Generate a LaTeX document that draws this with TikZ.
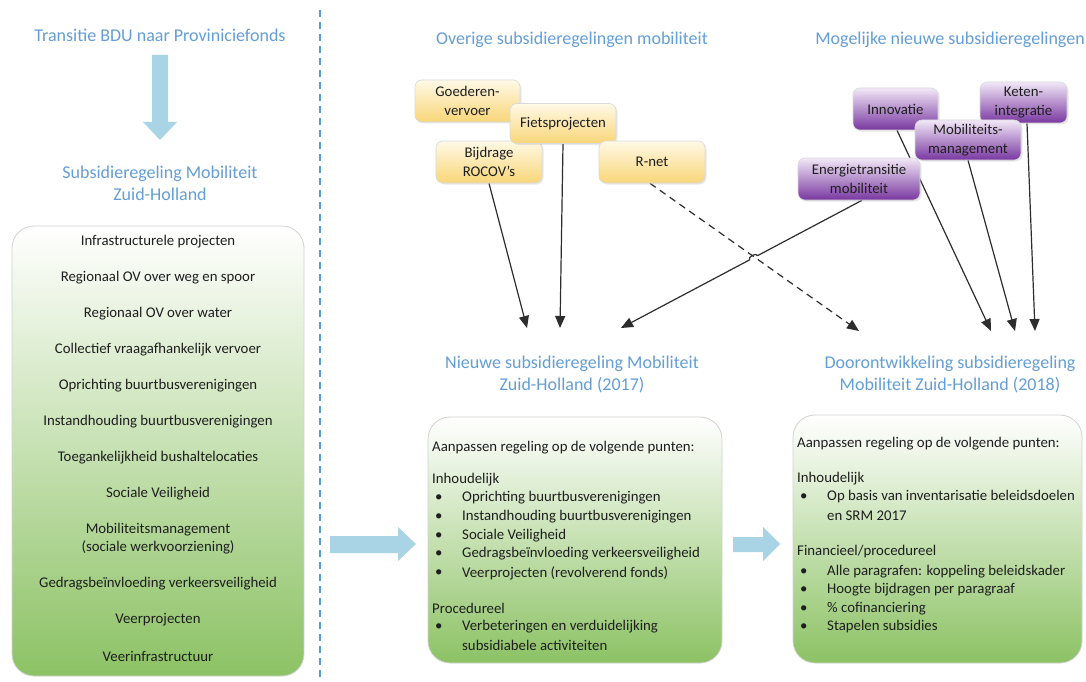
\documentclass[tikz,border=0pt]{standalone}
\usepackage{fontspec}
\setmainfont{Carlito}
\usetikzlibrary{arrows.meta,shadows,calc}
\pgfdeclarelayer{back}
\pgfdeclarelayer{bg}
\pgfsetlayers{back,bg,main}
\definecolor{headblue}{RGB}{100,158,214}
\definecolor{arrowblue}{RGB}{168,212,230}
\definecolor{dashblue}{RGB}{91,155,213}
\definecolor{txt}{RGB}{30,30,30}
\definecolor{greenbot}{RGB}{140,194,100}
\definecolor{yeltop}{RGB}{255,249,230}
\definecolor{yelbot}{RGB}{248,214,120}
\definecolor{purtop}{RGB}{242,232,247}
\definecolor{purbot}{RGB}{120,55,160}
\definecolor{linegray}{RGB}{45,45,45}
\newcommand\bodyfs{\fontsize{14.8}{18}\selectfont}
\newcommand\headfs{\fontsize{18}{22}\selectfont}
\newcommand\smallfs{\fontsize{14.8}{19}\selectfont}
\begin{document}
\begin{tikzpicture}[x=1pt,y=-1pt,
  heading/.style={text=headblue,font=\headfs,align=center,inner sep=0},
  bigbox/.style={draw=gray!35,line width=0.8,rounded corners=22,top color=white,bottom color=greenbot,inner sep=0},
  item/.style={text=txt,font=\bodyfs,align=center,inner sep=0},
  ltext/.style={text=txt,font=\bodyfs,anchor=west,inner sep=0},
  ybox/.style={draw=gray!30,line width=0.6,rounded corners=7,top color=yeltop,bottom color=yelbot,text=txt,font=\smallfs,align=center,inner sep=0,drop shadow={opacity=0.18,shadow xshift=1.5pt,shadow yshift=-1.5pt}},
  pbox/.style={draw=gray!30,line width=0.6,rounded corners=7,top color=purtop,bottom color=purbot,text=txt,font=\smallfs,align=center,inner sep=0,drop shadow={opacity=0.18,shadow xshift=1.5pt,shadow yshift=-1.5pt}},
  conn/.style={draw=linegray,line width=1.2,-{Triangle[length=12pt,width=10pt]}},
  fatarrow/.style={fill=arrowblue,draw=none}
]
\useasboundingbox (0,0) rectangle (1086,682);
\begin{pgfonlayer}{back}
\fill[white] (0,0) rectangle (1086,682);
\end{pgfonlayer}

% divider
\draw[dashblue,line width=1.3,dash pattern=on 7pt off 5pt] (320,10) -- (320,682);

% left column
\node[heading] (t1) at (160,35) {Transitie BDU naar Proviniciefonds};
\fill[fatarrow] (152,55) -- (168,55) -- (168,122) -- (177,122) -- (160,140) -- (143,122) -- (152,122) -- cycle;
\node[heading] (t2) at (160,183) {Subsidieregeling Mobiliteit\\Zuid-Holland};

\node[bigbox,minimum width=292,minimum height=450] (lbox) at (158,451) {};
\node[item] (l1) at (158,242) {Infrastructurele projecten};
\node[item] (l2) at (158,278) {Regionaal OV over weg en spoor};
\node[item] (l3) at (158,314) {Regionaal OV over water};
\node[item] (l4) at (158,350) {Collectief vraagafhankelijk vervoer};
\node[item] (l5) at (158,386) {Oprichting buurtbusverenigingen};
\node[item] (l6) at (158,422) {Instandhouding buurtbusverenigingen};
\node[item] (l7) at (158,458) {Toegankelijkheid bushaltelocaties};
\node[item] (l8) at (158,494) {Sociale Veiligheid};
\node[item] (l9) at (158,539) {Mobiliteitsmanagement\\(sociale werkvoorziening)};
\node[item] (l10) at (158,584) {Gedragsbeïnvloeding verkeersveiligheid};
\node[item] (l11) at (158,620) {Veerprojecten};
\node[item] (l12) at (158,656) {Veerinfrastructuur};

% headings right
\node[heading] (h1) at (572,40) {Overige subsidieregelingen mobiliteit};
\node[heading] (h2) at (950,40) {Mogelijke nieuwe subsidieregelingen};
\node[heading] (h3) at (572,374) {Nieuwe subsidieregeling Mobiliteit\\Zuid-Holland (2017)};
\node[heading] (h4) at (950,374) {Doorontwikkeling subsidieregeling\\Mobiliteit Zuid-Holland (2018)};

% yellow nodes
\node[ybox,minimum width=105,minimum height=42] (goed) at (467.5,101) {Goederen-\\vervoer};
\node[ybox,minimum width=106,minimum height=42] (bijd) at (489,162) {Bijdrage\\ROCOV’s};
\node[ybox,minimum width=106,minimum height=40] (fiets) at (563,123.5) {Fietsprojecten};
\node[ybox,minimum width=106,minimum height=42] (rnet) at (652,162) {R-net};

% purple nodes
\node[pbox,minimum width=85,minimum height=42] (innov) at (895.5,109) {Innovatie};
\node[pbox,minimum width=87,minimum height=41] (keten) at (1023.5,102.5) {Keten-\\integratie};
\node[pbox,minimum width=106,minimum height=40] (mobman) at (968,140) {Mobiliteits-\\management};
\node[pbox,minimum width=122,minimum height=42] (energie) at (859,179) {Energietransitie\\mobiliteit};

% end points
\coordinate (e1) at (527,328);
\coordinate (e2) at (560,328);
\coordinate (e3) at (621,328);
\coordinate (e4) at (859,331);
\coordinate (e5) at (991,331);
\coordinate (e6) at (1015,331);
\coordinate (e7) at (1035,331);

\begin{pgfonlayer}{bg}
\draw[conn] (bijd.south) -- (e1);
\draw[conn] (fiets.south) -- (e2);
\coordinate (es) at ([xshift=3pt]energie.south);
\draw[conn] (es) -- ($(es)!0.433!(e3)$) to[bend right=90] ($(es)!0.467!(e3)$) -- (e3);
\draw[conn,dashed,dash pattern=on 7pt off 5pt] ([xshift=-2pt]rnet.south) -- (e4);
\draw[conn] ([xshift=1.5pt]innov.south) -- (e5);
\draw[conn] (mobman.south) -- (e6);
\draw[conn] ([xshift=3.5pt]keten.south) -- (e7);
\end{pgfonlayer}

% lower boxes
\fill[fatarrow] (330,536) -- (398,536) -- (398,527) -- (416,544) -- (398,561) -- (398,553) -- (330,553) -- cycle;
\fill[fatarrow] (733,537) -- (763,537) -- (763,527) -- (780,544) -- (763,561) -- (763,552) -- (733,552) -- cycle;

\node[bigbox,minimum width=294,minimum height=246] (mbox) at (575,540) {};
\node[ltext] (m1) at (432,448) {Aanpassen regeling op de volgende punten:};
\node[ltext] (m2) at (432,480) {Inhoudelijk};
\node[ltext] (m3b) at (435,498) {\textbullet};
\node[ltext] (m3) at (462,498) {Oprichting buurtbusverenigingen};
\node[ltext] (m4b) at (435,517) {\textbullet};
\node[ltext] (m4) at (462,517) {Instandhouding buurtbusverenigingen};
\node[ltext] (m5b) at (435,536) {\textbullet};
\node[ltext] (m5) at (462,536) {Sociale Veiligheid};
\node[ltext] (m6b) at (435,554) {\textbullet};
\node[ltext] (m6) at (462,554) {Gedragsbeïnvloeding verkeersveiligheid};
\node[ltext] (m7b) at (435,573) {\textbullet};
\node[ltext] (m7) at (462,573) {Veerprojecten (revolverend fonds)};
\node[ltext] (m8) at (432,608) {Procedureel};
\node[ltext] (m9b) at (435,627) {\textbullet};
\node[ltext] (m9) at (462,627) {Verbeteringen en verduidelijking};
\node[ltext] (m10) at (462,645) {subsidiabele activiteiten};

\node[bigbox,minimum width=289,minimum height=248] (rbox) at (937.5,539) {};
\node[ltext] (r1) at (797,444) {Aanpassen regeling op de volgende punten:};
\node[ltext] (r2) at (797,479) {Inhoudelijk};
\node[ltext] (r3b) at (800,497) {\textbullet};
\node[ltext] (r3) at (827,497) {Op basis van inventarisatie beleidsdoelen};
\node[ltext] (r4) at (827,516) {en SRM 2017};
\node[ltext] (r5) at (797,552) {Financieel/procedureel};
\node[ltext] (r6b) at (800,572) {\textbullet};
\node[ltext] (r6) at (827,572) {Alle paragrafen: koppeling beleidskader};
\node[ltext] (r7b) at (800,590) {\textbullet};
\node[ltext] (r7) at (827,590) {Hoogte bijdragen per paragraaf};
\node[ltext] (r8b) at (800,609) {\textbullet};
\node[ltext] (r8) at (827,609) {\% cofinanciering};
\node[ltext] (r9b) at (800,627) {\textbullet};
\node[ltext] (r9) at (827,627) {Stapelen subsidies};
\end{tikzpicture}
\end{document}
